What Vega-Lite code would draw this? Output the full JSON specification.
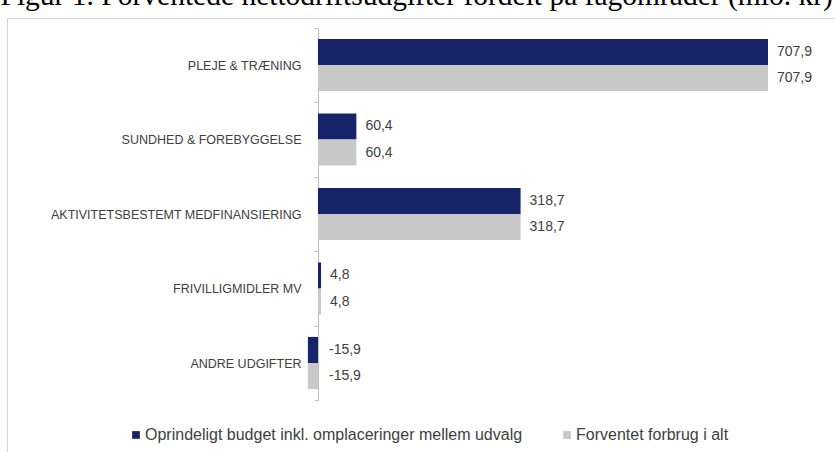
{
  "$schema": "https://vega.github.io/schema/vega-lite/v6.json",
  "width": 828,
  "height": 434,
  "autosize": {"type": "none"},
  "padding": {"left": 7, "top": 18, "right": 0, "bottom": 0},
  "config": {
    "locale": {"number": {"decimal": ",", "thousands": ".", "grouping": [3], "currency": ["", ""], "minus": "-"}},
    "view": {"stroke": "#a6a6a6", "strokeDash": [1, 1]},
    "font": "Liberation Sans"
  },
  "data": {
    "values": [
      {"kategori": "PLEJE & TRÆNING", "serie": "Oprindeligt budget inkl. omplaceringer mellem udvalg", "value": 707.9},
      {"kategori": "PLEJE & TRÆNING", "serie": "Forventet forbrug i alt", "value": 707.9},
      {"kategori": "SUNDHED & FOREBYGGELSE", "serie": "Oprindeligt budget inkl. omplaceringer mellem udvalg", "value": 60.4},
      {"kategori": "SUNDHED & FOREBYGGELSE", "serie": "Forventet forbrug i alt", "value": 60.4},
      {"kategori": "AKTIVITETSBESTEMT MEDFINANSIERING", "serie": "Oprindeligt budget inkl. omplaceringer mellem udvalg", "value": 318.7},
      {"kategori": "AKTIVITETSBESTEMT MEDFINANSIERING", "serie": "Forventet forbrug i alt", "value": 318.7},
      {"kategori": "FRIVILLIGMIDLER MV", "serie": "Oprindeligt budget inkl. omplaceringer mellem udvalg", "value": 4.8},
      {"kategori": "FRIVILLIGMIDLER MV", "serie": "Forventet forbrug i alt", "value": 4.8},
      {"kategori": "ANDRE UDGIFTER", "serie": "Oprindeligt budget inkl. omplaceringer mellem udvalg", "value": -15.9},
      {"kategori": "ANDRE UDGIFTER", "serie": "Forventet forbrug i alt", "value": -15.9}
    ]
  },
  "encoding": {
    "y": {
      "field": "kategori",
      "type": "nominal",
      "sort": ["PLEJE & TRÆNING", "SUNDHED & FOREBYGGELSE", "AKTIVITETSBESTEMT MEDFINANSIERING", "FRIVILLIGMIDLER MV", "ANDRE UDGIFTER"],
      "scale": {"range": [9.75, 382.25], "paddingInner": 0, "paddingOuter": 0},
      "axis": {
        "orient": "left",
        "offset": -311,
        "title": null,
        "labelPadding": 13,
        "labelFontSize": 12.5,
        "labelColor": "#404040",
        "labelLimit": 400,
        "domainColor": "#bfbfbf",
        "tickColor": "#bfbfbf",
        "tickSize": 4,
        "tickBand": "extent"
      }
    },
    "yOffset": {
      "field": "serie",
      "type": "nominal",
      "sort": ["Oprindeligt budget inkl. omplaceringer mellem udvalg", "Forventet forbrug i alt"],
      "scale": {"paddingInner": 0, "paddingOuter": 0.43}
    }
  },
  "layer": [
    {
      "mark": {"type": "bar"},
      "encoding": {
        "x": {
          "field": "value",
          "type": "quantitative",
          "scale": {"domain": [-489.2, 813.3], "nice": false, "zero": false},
          "axis": {
            "orient": "top",
            "domain": false,
            "ticks": false,
            "labels": false,
            "grid": false,
            "title": "Figur 1. Forventede nettodriftsudgifter fordelt på fagområder (mio. kr)",
            "titleFont": "Liberation Serif",
            "titleFontSize": 29.5,
            "titleFontWeight": "normal",
            "titleColor": "#000000",
            "titleAnchor": "start",
            "titleAlign": "left",
            "titleBaseline": "alphabetic",
            "titleX": -7,
            "titleY": -14
          }
        },
        "color": {
          "field": "serie",
          "type": "nominal",
          "sort": ["Oprindeligt budget inkl. omplaceringer mellem udvalg", "Forventet forbrug i alt"],
          "scale": {"domain": ["Oprindeligt budget inkl. omplaceringer mellem udvalg", "Forventet forbrug i alt"], "range": ["#17246a", "#c8c8c8"]},
          "legend": {
            "orient": "none",
            "legendX": 121,
            "legendY": 409,
            "direction": "horizontal",
            "title": null,
            "symbolType": "square",
            "symbolSize": 60,
            "symbolStrokeWidth": 0,
            "labelFontSize": 16,
            "labelColor": "#404040",
            "labelLimit": 500,
            "labelOffset": 1,
            "columnPadding": 36
          }
        }
      }
    },
    {
      "transform": [{"filter": "datum.value >= 0"}],
      "mark": {"type": "text", "align": "left", "dx": 9, "fontSize": 14, "color": "#404040"},
      "encoding": {
        "x": {"field": "value", "type": "quantitative"},
        "text": {"field": "value", "type": "quantitative", "format": ".1f"}
      }
    },
    {
      "transform": [{"filter": "datum.value < 0"}],
      "mark": {"type": "text", "align": "left", "dx": 11, "fontSize": 14, "color": "#404040"},
      "encoding": {
        "x": {"datum": 0, "type": "quantitative"},
        "text": {"field": "value", "type": "quantitative", "format": ".1f"}
      }
    }
  ]
}
